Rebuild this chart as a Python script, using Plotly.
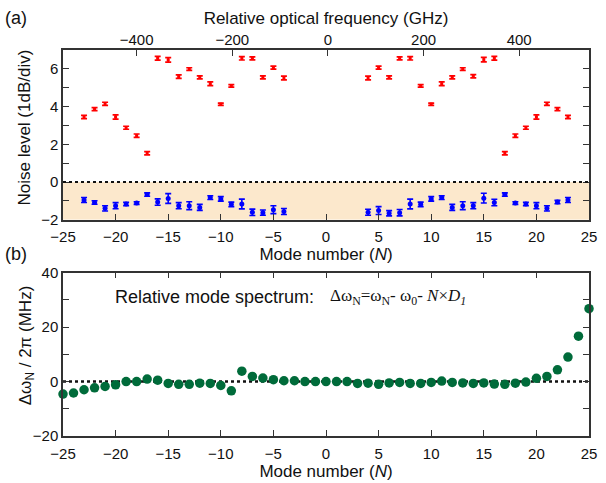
import plotly.graph_objects as go

# ---------------- data ----------------
mode_left = list(range(-23, -3))
mode_right = list(range(4, 24))
modes_noise = mode_left + mode_right

red_level = [3.45, 3.87, 4.15, 3.45, 2.88, 2.46, 1.53, 6.56, 6.48, 5.59,
             5.99, 5.55, 5.21, 4.13, 5.10, 6.56, 6.56, 5.55, 6.07, 5.52,
             5.52, 6.07, 5.55, 6.56, 6.56, 5.10, 4.13, 5.21, 5.55, 5.99,
             5.61, 6.49, 6.56, 1.53, 2.46, 2.88, 3.45, 4.15, 3.87, 3.45]
red_err = [0.09, 0.08, 0.08, 0.11, 0.08, 0.09, 0.09, 0.10, 0.12, 0.09,
           0.07, 0.08, 0.10, 0.06, 0.07, 0.09, 0.08, 0.08, 0.08, 0.10,
           0.10, 0.08, 0.08, 0.08, 0.09, 0.07, 0.06, 0.10, 0.08, 0.07,
           0.09, 0.12, 0.10, 0.09, 0.09, 0.08, 0.11, 0.08, 0.08, 0.09]

blue_level = [-0.95, -1.08, -1.39, -1.25, -1.16, -1.11, -0.66, -1.06, -0.87, -1.25,
              -1.25, -1.34, -0.82, -0.89, -1.18, -1.16, -1.60, -1.62, -1.46, -1.56,
              -1.60, -1.51, -1.65, -1.62, -1.16, -1.18, -0.89, -0.82, -1.34, -1.25,
              -1.25, -0.85, -1.08, -0.66, -1.11, -1.16, -1.25, -1.39, -1.06, -0.95]
blue_err = [0.13, 0.09, 0.14, 0.16, 0.09, 0.07, 0.09, 0.17, 0.26, 0.16,
            0.21, 0.16, 0.10, 0.12, 0.12, 0.26, 0.17, 0.14, 0.21, 0.16,
            0.16, 0.21, 0.14, 0.17, 0.26, 0.12, 0.12, 0.10, 0.16, 0.21,
            0.16, 0.26, 0.17, 0.09, 0.07, 0.09, 0.16, 0.14, 0.09, 0.13]

modes_all = list(range(-25, 26))
delta_omega = [-4.6, -4.2, -3.0, -2.3, -1.8, -1.2, 0.0, 0.0, 0.9, 0.5,
               -0.7, -1.0, -1.0, -0.6, -0.7, -1.4, -3.4, 3.8, 1.9, 1.3,
               0.7, 0.3, 0.3, 0.0, 0.0, 0.0, 0.0, 0.0, -0.7, -0.6,
               -1.0, -0.5, -0.3, -0.7, -0.7, -0.3, 0.2, -0.3, -0.5, -0.7,
               -0.5, -0.9, -1.0, -0.6, -0.2, 1.2, 1.9, 4.3, 9.0, 16.7, 26.8]

x_ticks = list(range(-25, 26, 5))
ghz_ticks = [-400, -200, 0, 200, 400]
noise_ticks = [-2, 0, 2, 4, 6]
mhz_ticks = [-20, 0, 20, 40]

FONT = "Arial, Liberation Sans, sans-serif"
SERIF = "Times New Roman, Liberation Serif, serif"
AXC = "#333333"

fig = go.Figure()

fig.add_trace(go.Scatter(
    x=modes_noise, y=red_level, mode="markers",
    marker=dict(color="#ff0000", size=3, symbol="square"),
    error_y=dict(type="data", array=red_err, color="#ff0000", thickness=1.7, width=3),
    xaxis="x", yaxis="y", showlegend=False, cliponaxis=False))

fig.add_trace(go.Scatter(
    x=modes_noise, y=blue_level, mode="markers",
    marker=dict(color="#0000ff", size=5),
    error_y=dict(type="data", array=blue_err, color="#0000ff", thickness=1.6, width=3),
    xaxis="x", yaxis="y", showlegend=False, cliponaxis=False))

# invisible trace to carry the GHz axis
fig.add_trace(go.Scatter(x=[0], y=[0], mode="markers", marker=dict(opacity=0),
                         xaxis="x3", yaxis="y", showlegend=False, hoverinfo="skip"))

fig.add_trace(go.Scatter(
    x=modes_all, y=delta_omega, mode="markers",
    marker=dict(color="#006b3a", size=9.5),
    xaxis="x2", yaxis="y2", showlegend=False, cliponaxis=False))

common_axis = dict(showline=True, linecolor=AXC, linewidth=1.5, ticks="inside",
                   tickcolor=AXC, ticklen=6, tickwidth=1.3, showgrid=False, zeroline=False,
                   tickfont=dict(family=FONT, size=15, color="#111"))
minor_y = dict(ticks="inside", ticklen=6, tickwidth=1.3, tickcolor=AXC, showgrid=False)

fig.update_layout(
    width=606, height=483,
    margin=dict(l=63, r=9, t=50, b=39),
    plot_bgcolor="white", paper_bgcolor="white",
    font=dict(family=FONT, color="#111"),
    xaxis=dict(**common_axis, domain=[0, 1], anchor="y", range=[-25, 25],
               tickvals=x_ticks, mirror=False, ticklabelstandoff=2,
               title=dict(text="Mode number (<i>N</i>)", font=dict(family=FONT, size=17), standoff=0)),
    yaxis=dict(**common_axis, domain=[0.56, 1], anchor="x", range=[-2, 7],
               tickvals=noise_ticks, mirror="ticks", minor=dict(**minor_y, dtick=1, tick0=0)),
    xaxis3=dict(**common_axis, overlaying="x", side="top", anchor="y",
                range=[-554, 546], tickvals=ghz_ticks, ticklabelstandoff=-3,
                title=dict(text="Relative optical frequency (GHz)", font=dict(family=FONT, size=17), standoff=2)),
    xaxis2=dict(**common_axis, domain=[0, 1], anchor="y2", range=[-25, 25],
                tickvals=x_ticks, mirror="ticks", ticklabelstandoff=3,
                title=dict(text="Mode number (<i>N</i>)", font=dict(family=FONT, size=17), standoff=0)),
    yaxis2=dict(**common_axis, domain=[0, 0.423], anchor="x2", range=[-20, 40],
                tickvals=mhz_ticks, mirror="ticks", minor=dict(**minor_y, dtick=10, tick0=0)),
)

fig.add_shape(type="rect", xref="x", yref="y", x0=-25, x1=25, y0=-2, y1=0,
              fillcolor="#fce8cc", line=dict(width=0), layer="below")
fig.add_shape(type="line", xref="x", yref="y", x0=-25, x1=25, y0=0, y1=0,
              line=dict(color="#111", width=2, dash="dot"))
fig.add_shape(type="line", xref="x2", yref="y2", x0=-25, x1=25, y0=0, y1=0,
              line=dict(color="#111", width=2.5, dash="dot"), layer="below")

# y-axis titles
fig.add_annotation(text="Noise level (1dB/div)", xref="paper", yref="paper",
                   x=-0.0735, y=0.80, textangle=-90, xanchor="center", yanchor="middle",
                   showarrow=False, font=dict(family=FONT, size=17, color="#111"))
fig.add_annotation(text="Δω<sub>N</sub> / 2π (MHz)", xref="paper", yref="paper",
                   x=-0.0685, y=0.235, textangle=-90, xanchor="center", yanchor="middle",
                   showarrow=False, font=dict(family=FONT, size=17, color="#111"))

fig.add_annotation(text="Relative mode spectrum:", xref="paper", yref="paper",
                   x=0.0955, y=0.36, xanchor="left", yanchor="middle", showarrow=False,
                   font=dict(family=FONT, size=18, color="#111"))
fig.add_annotation(text="Δω<sub>N</sub>=ω<sub>N</sub>- ω<sub>0</sub>- <i>N</i>×<i>D<sub>1</sub></i>",
                   xref="paper", yref="paper",
                   x=0.503, y=0.36, xanchor="left", yanchor="middle", showarrow=False,
                   font=dict(family=SERIF, size=17, color="#111"))
fig.add_annotation(text="(a)", xref="paper", yref="paper", x=-0.09, y=1.084,
                   xanchor="center", yanchor="middle", showarrow=False,
                   font=dict(family=FONT, size=18, color="#111"))
fig.add_annotation(text="(b)", xref="paper", yref="paper", x=-0.09, y=0.472,
                   xanchor="center", yanchor="middle", showarrow=False,
                   font=dict(family=FONT, size=18, color="#111"))

fig.write_html("out.html", config={"displayModeBar": False},
               post_script="document.body.style.margin='0';document.body.style.padding='0';")
